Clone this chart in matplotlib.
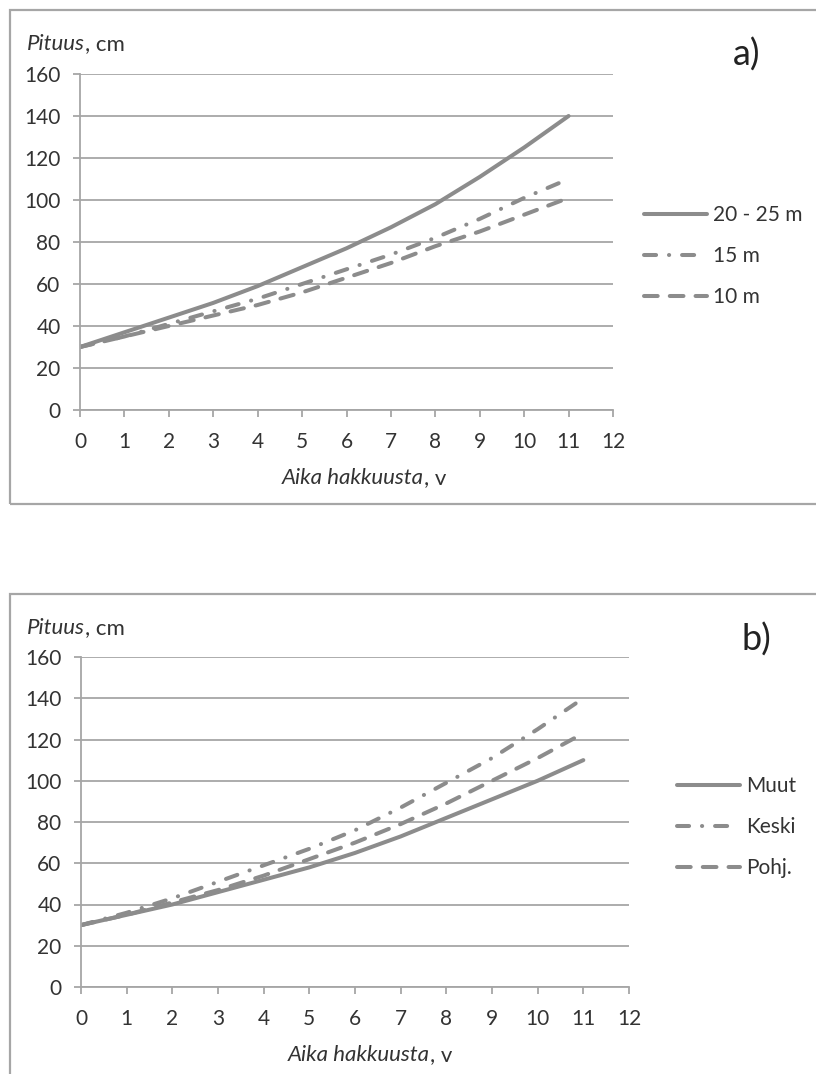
import matplotlib
matplotlib.use("Agg")
import matplotlib.pyplot as plt
from matplotlib.patches import Rectangle

# Datos
vuodet = [0, 1, 2, 3, 4, 5, 6, 7, 8, 9, 10, 11]

# a) etäisyys
a_20_25 = [30, 37, 44, 51, 59, 68, 77, 87, 98, 111, 125, 140]
a_15 = [30, 35, 41, 47, 53, 60, 67, 74, 82, 91, 101, 110]
a_10 = [30, 35, 40, 45, 50, 56, 63, 70, 78, 85, 93, 101]
a_labels = ["20 - 25 m", "15 m", "10 m"]

# b) alue
b_muut = [30, 35, 40, 46, 52, 58, 65, 73, 82, 91, 100, 110]
b_keski = [30, 36, 43, 51, 59, 67, 76, 87, 99, 111, 125, 140]
b_pohj = [30, 35, 41, 47, 54, 62, 70, 79, 89, 100, 111, 123]
b_labels = ["Muut", "Keski", "Pohj."]

yticks = [0, 20, 40, 60, 80, 100, 120, 140, 160]
xticks = list(range(0, 13))

gris = "#8c8c8c"
gris_rejilla = "#a6a6a6"
texto = "#333333"
W, H = 816, 1074
fs = 15

plt.rcParams['font.family'] = ['Lato', 'DejaVu Sans']

fig = plt.figure(figsize=(W / 100, H / 100), dpi=100)


def px(x0, y0, x1, y1):
    # caja en pixeles -> fracciones de figura
    return [x0 / W, 1 - y1 / H, (x1 - x0) / W, (y1 - y0) / H]


estilos = [
    dict(linestyle='-', solid_capstyle='round'),
    dict(linestyle=(0, (3.0, 3.2, 0.05, 3.2)), dash_capstyle='round'),
    dict(linestyle=(0, (3.4, 3.0)), dash_capstyle='round'),
]


def panel(caja, marco, series, labels, letra, letra_xy, leg_xy, ylab_xy):
    ax = fig.add_axes(px(*caja))
    for datos, lab, st in zip(series, labels, estilos):
        ax.plot(vuodet, datos, color=gris, lw=2.9, label=lab, **st)
    ax.set_xlim(0, 12)
    ax.set_ylim(0, 160)
    ax.set_xticks(xticks)
    ax.set_yticks(yticks)
    ax.yaxis.grid(True, color=gris_rejilla, lw=1.3)
    ax.set_axisbelow(True)
    for s in ['top', 'right']:
        ax.spines[s].set_visible(False)
    for s in ['left', 'bottom']:
        ax.spines[s].set_color(gris_rejilla)
        ax.spines[s].set_linewidth(1.3)
    ax.tick_params(axis='both', colors=gris_rejilla, labelcolor=texto,
                   labelsize=fs, length=5, width=1.3)
    ax.tick_params(axis='x', pad=11)
    ax.tick_params(axis='y', pad=9)

    # etiqueta del eje y
    t1 = fig.text(ylab_xy[0] / W, 1 - ylab_xy[1] / H, "Pituus", style='italic',
                  fontsize=fs + 1, color=texto, va='center', ha='left')
    ax.annotate(", cm", xy=(1, 0), xycoords=t1, va='bottom', ha='left',
                fontsize=fs + 1, color=texto)

    # etiqueta del eje x
    t2 = fig.text(letra_xy[2] / W, 1 - (caja[3] + 68) / H, "Aika hakkuusta",
                  style='italic', fontsize=fs + 1, color=texto, va='center', ha='left')
    ax.annotate(", v", xy=(1, 0), xycoords=t2, va='bottom', ha='left',
                fontsize=fs + 1, color=texto)

    fig.text(letra_xy[0] / W, 1 - letra_xy[1] / H, letra, fontsize=26,
             color="#222222", va='center', ha='left')

    ax.legend(loc='center left', bbox_to_anchor=(leg_xy[0] / W, 1 - leg_xy[1] / H),
              bbox_transform=fig.transFigure, frameon=False, fontsize=fs,
              handlelength=3.0, handletextpad=0.3, labelspacing=1.0,
              labelcolor=texto, borderaxespad=0, borderpad=0)

    fig.patches.append(Rectangle((marco[0] / W, 1 - marco[3] / H),
                                 (marco[2] - marco[0]) / W, (marco[3] - marco[1]) / H,
                                 transform=fig.transFigure, fill=False,
                                 edgecolor="#a6a6a6", lw=1.6))
    return ax


panel((80, 74, 613, 410), (10, 10, 830, 504), [a_20_25, a_15, a_10], a_labels,
      "a)", (733, 55, 282), (644, 256), (27, 44))
panel((81, 657, 629, 987), (10, 594, 830, 1100), [b_muut, b_keski, b_pohj], b_labels,
      "b)", (742, 640, 288), (677, 827), (27, 628))

plt.savefig("out.png", dpi=100)
